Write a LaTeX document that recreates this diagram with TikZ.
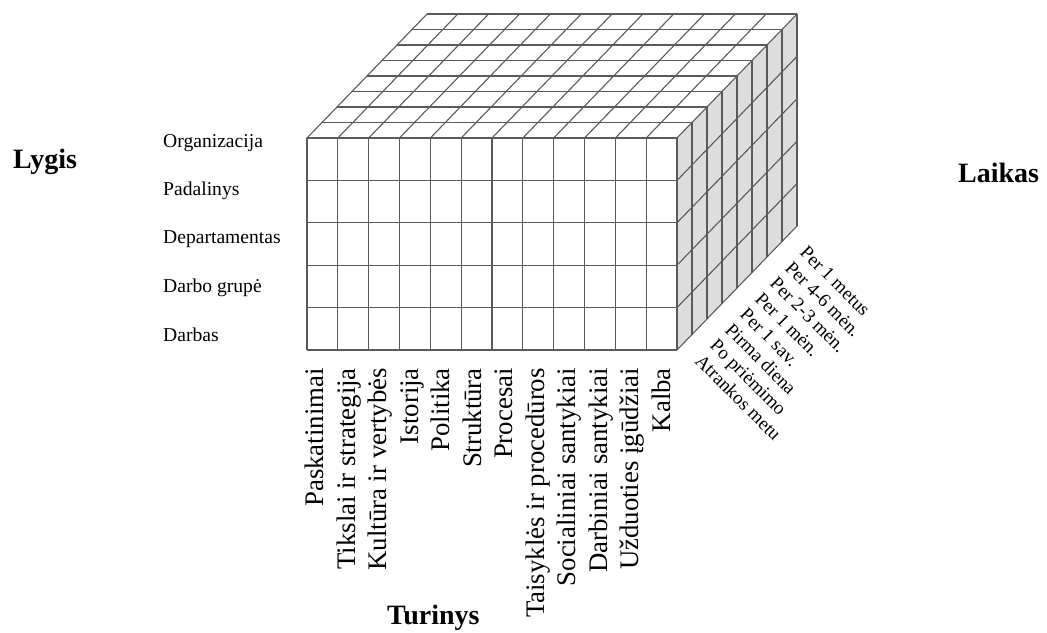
\documentclass[tikz,border=0pt]{standalone}
\usepackage{fontspec}
\setmainfont{Liberation Serif}
\definecolor{gridline}{HTML}{5A5A5A}
\definecolor{sideface}{HTML}{DDDDDD}
\begin{document}
\begin{tikzpicture}[x=1pt,y=-1pt,
  gridl/.style={draw=gridline,line width=1.1pt},
  rowlab/.style={font=\fontsize{19.6}{20}\selectfont,anchor=base west,inner sep=0pt},
  collab/.style={font=\fontsize{26.8}{27}\selectfont,anchor=base east,rotate=90,inner sep=0pt},
  timelab/.style={font=\fontsize{19}{19}\selectfont,anchor=base west,rotate=-45,inner sep=0pt},
  axislab/.style={font=\fontsize{28}{30}\selectfont\bfseries,anchor=base west,inner sep=0pt}]
\useasboundingbox (0,0) rectangle (1047,632);
\def\W{30.833}\def\H{42.4}
% faces
\fill[white] (307,138) rectangle (677,350);
\fill[white] (307,138) -- (677,138) -- (797,14) -- (427,14) -- cycle;
\fill[sideface] (677,138) -- (797,14) -- (797,226) -- (677,350) -- cycle;
% front face grid
\foreach \i in {0,...,12} \draw[gridl] ({307+\W*\i},138) -- ({307+\W*\i},350);
\foreach \j in {0,...,5} \draw[gridl] (307,{138+\H*\j}) -- (677,{138+\H*\j});
% top face grid
\foreach \k in {1,...,8} \draw[gridl] ({307+15*\k},{138-15.5*\k}) -- ({677+15*\k},{138-15.5*\k});
\foreach \i in {0,...,12} \draw[gridl] ({307+\W*\i},138) -- ({427+\W*\i},14);
% right face grid
\foreach \k in {1,...,8} \draw[gridl] ({677+15*\k},{138-15.5*\k}) -- ({677+15*\k},{350-15.5*\k});
\foreach \j in {1,...,5} \draw[gridl] (677,{138+\H*\j}) -- (797,{14+\H*\j});
% axis titles
\node[axislab] (lygis) at (13,168) {Lygis};
\node[axislab] (laikas) at (958,182) {Laikas};
\node[axislab] (turinys) at (387,624) {Turinys};
% row labels
\node[rowlab] (r1) at (163,147) {Organizacija};
\node[rowlab] (r2) at (163,195) {Padalinys};
\node[rowlab] (r3) at (163,243) {Departamentas};
\node[rowlab] (r4) at (163,292) {Darbo grupė};
\node[rowlab] (r5) at (163,341) {Darbas};
% column labels
\foreach \t [count=\n from 0] in {Paskatinimai,Tikslai ir strategija,Kultūra ir vertybės,Istorija,Politika,Struktūra,Procesai,Taisyklės ir procedūros,Socialiniai santykiai,Darbiniai santykiai,Užduoties įgūdžiai,Kalba}
  \node[collab] (c\n) at ({323.5+31.5*\n},368) {\t};
% time labels
\foreach \t [count=\n from 0] in {Atrankos metu,Po priėmimo,Pirma diena,Per 1 sav.,Per 1 mėn.,Per 2-3 mėn.,Per 4-6 mėn.,Per 1 metus}
  \node[timelab] (t\n) at ({694+15*\n},{362-15.5*\n}) {\t};
\end{tikzpicture}
\end{document}
